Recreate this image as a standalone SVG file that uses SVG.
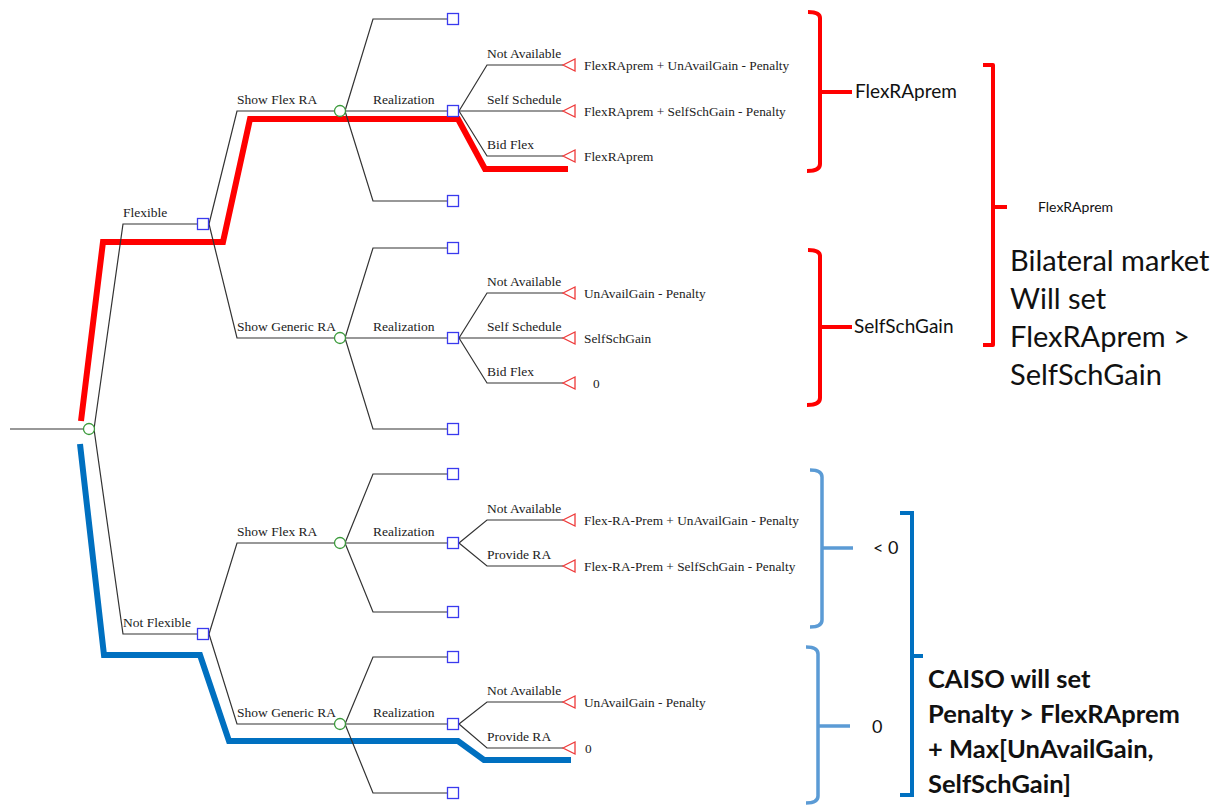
<svg xmlns="http://www.w3.org/2000/svg" width="1224" height="805" viewBox="0 0 1224 805">
<style>
.br{fill:none;stroke:#333;stroke-width:1.2}
.dec{fill:#fff;stroke:#3a3aee;stroke-width:1.3}
.chn{fill:#fff;stroke:#3a9a3a;stroke-width:1.3}
.trm{fill:#fff;stroke:#ee3a3a;stroke-width:1.3}
.lb{font-family:"Liberation Serif",serif;font-size:13.5px;fill:#222}
.pay{font-family:"Liberation Serif",serif;font-size:13.3px;fill:#222}
.ann{font-family:Lato,"Open Sans",sans-serif;fill:#111}
.rb{fill:none;stroke:#ff0000;stroke-width:4;stroke-linejoin:round}
.lbb{fill:none;stroke:#5b9bd5;stroke-width:3.5}
.dbb{fill:none;stroke:#0070c0;stroke-width:4}
.hl{fill:none;stroke-width:6;stroke-linejoin:miter}
</style>
<rect width="1224" height="805" fill="#fff"/>

<g id="highlights">
<polyline class="hl" stroke="#ff0000" points="81,421 103,242 223,242 250,119 458,119 485,169 568,169"/>
<polyline class="hl" stroke="#0070c0" points="80,444 104,655 200,655 229,741 458,741 484,760 571,760"/>
</g>

<g id="connectors">
<line class="br" x1="10" y1="429" x2="84" y2="429"/>
<polyline class="br" points="94,429 123,224 197,224"/>
<polyline class="br" points="94,429 123,634 197,634"/>
<polyline class="br" points="209,224 237,111 335,111"/>
<polyline class="br" points="209,224 237,338 335,338"/>
<polyline class="br" points="209,634 237,543 335,543"/>
<polyline class="br" points="209,634 237,724 335,724"/>
<polyline class="br" points="345,111 373,19 447,19"/>
<polyline class="br" points="345,111 447,111"/>
<polyline class="br" points="345,111 373,201 447,201"/>
<polyline class="br" points="345,338 373,248 447,248"/>
<polyline class="br" points="345,338 447,338"/>
<polyline class="br" points="345,338 373,429 447,429"/>
<polyline class="br" points="345,543 373,474 447,474"/>
<polyline class="br" points="345,543 447,543"/>
<polyline class="br" points="345,543 373,612 447,612"/>
<polyline class="br" points="345,724 373,657 447,657"/>
<polyline class="br" points="345,724 447,724"/>
<polyline class="br" points="345,724 373,793 447,793"/>
<polyline class="br" points="459,111 487,65 563,65"/>
<polyline class="br" points="459,111 563,111"/>
<polyline class="br" points="459,111 487,156 563,156"/>
<polyline class="br" points="459,338 487,293 563,293"/>
<polyline class="br" points="459,338 563,338"/>
<polyline class="br" points="459,338 487,383 563,383"/>
<polyline class="br" points="459,543 487,520 563,520"/>
<polyline class="br" points="459,543 487,566 563,566"/>
<polyline class="br" points="459,724 487,702 563,702"/>
<polyline class="br" points="459,724 487,748 563,748"/>
</g>

<g id="branch-labels" class="lb">
<text x="123" y="217">Flexible</text>
<text x="123" y="627">Not Flexible</text>
<text x="237" y="104">Show Flex RA</text>
<text x="237" y="331">Show Generic RA</text>
<text x="237" y="536">Show Flex RA</text>
<text x="237" y="717">Show Generic RA</text>
<text x="373" y="104">Realization</text>
<text x="373" y="331">Realization</text>
<text x="373" y="536">Realization</text>
<text x="373" y="717">Realization</text>
<text x="487" y="58">Not Available</text>
<text x="487" y="104">Self Schedule</text>
<text x="487" y="149">Bid Flex</text>
<text x="487" y="286">Not Available</text>
<text x="487" y="331">Self Schedule</text>
<text x="487" y="376">Bid Flex</text>
<text x="487" y="513">Not Available</text>
<text x="487" y="559">Provide RA</text>
<text x="487" y="695">Not Available</text>
<text x="487" y="741">Provide RA</text>
</g>

<g id="root"><circle class="chn" cx="89" cy="429" r="5.5"/></g>
<g id="flexible"><rect class="dec" x="197.5" y="218.5" width="11" height="11"/></g>
<g id="not-flexible"><rect class="dec" x="197.5" y="628.5" width="11" height="11"/></g>
<g id="flex-showflex"><circle class="chn" cx="340" cy="111" r="5.5"/></g>
<g id="flex-showgeneric"><circle class="chn" cx="340" cy="338" r="5.5"/></g>
<g id="notflex-showflex"><circle class="chn" cx="340" cy="543" r="5.5"/></g>
<g id="notflex-showgeneric"><circle class="chn" cx="340" cy="724" r="5.5"/></g>
<g id="leaf-boxes">
<rect class="dec" x="447.5" y="13.5" width="11" height="11"/>
<rect class="dec" x="447.5" y="195.5" width="11" height="11"/>
<rect class="dec" x="447.5" y="242.5" width="11" height="11"/>
<rect class="dec" x="447.5" y="423.5" width="11" height="11"/>
<rect class="dec" x="447.5" y="468.5" width="11" height="11"/>
<rect class="dec" x="447.5" y="606.5" width="11" height="11"/>
<rect class="dec" x="447.5" y="651.5" width="11" height="11"/>
<rect class="dec" x="447.5" y="787.5" width="11" height="11"/>
</g>
<g id="real-1"><rect class="dec" x="447.5" y="105.5" width="11" height="11"/></g>
<g id="real-2"><rect class="dec" x="447.5" y="332.5" width="11" height="11"/></g>
<g id="real-3"><rect class="dec" x="447.5" y="537.5" width="11" height="11"/></g>
<g id="real-4"><rect class="dec" x="447.5" y="718.5" width="11" height="11"/></g>

<g id="terminals">
<polygon class="trm" points="563,65 575,59 575,71"/>
<polygon class="trm" points="563,111 575,105 575,117"/>
<polygon class="trm" points="563,156 575,150 575,162"/>
<polygon class="trm" points="563,293 575,287 575,299"/>
<polygon class="trm" points="563,338 575,332 575,344"/>
<polygon class="trm" points="563,383 575,377 575,389"/>
<polygon class="trm" points="563,520 575,514 575,526"/>
<polygon class="trm" points="563,566 575,560 575,572"/>
<polygon class="trm" points="563,702 575,696 575,708"/>
<polygon class="trm" points="563,748 575,742 575,754"/>
</g>

<g id="payoffs" class="pay">
<text x="584" y="69.5">FlexRAprem + UnAvailGain - Penalty</text>
<text x="584" y="115.5">FlexRAprem + SelfSchGain - Penalty</text>
<text x="584" y="160.5">FlexRAprem</text>
<text x="584" y="297.5">UnAvailGain - Penalty</text>
<text x="584" y="342.5">SelfSchGain</text>
<text x="593" y="387.5">0</text>
<text x="584" y="524.5">Flex-RA-Prem + UnAvailGain - Penalty</text>
<text x="584" y="570.5">Flex-RA-Prem + SelfSchGain - Penalty</text>
<text x="584" y="706.5">UnAvailGain - Penalty</text>
<text x="585" y="752.5">0</text>
</g>

<g id="bracket-flexraprem">
<path class="rb" d="M808,12 Q820,12 820,18 L820,164 Q820,171 807,171 M820,92 L852,92"/>
<text class="ann" x="855" y="98" font-size="19">FlexRAprem</text>
</g>
<g id="bracket-selfschgain">
<path class="rb" d="M808,250 Q820,250 820,256 L820,398 Q820,405 807,405 M820,327 L852,327"/>
<text class="ann" x="854" y="333" font-size="19">SelfSchGain</text>
</g>
<g id="bracket-bilateral">
<path class="rb" d="M983,65 L993,65 L993,345 L983,345 M993,207 L1007,207"/>
<text class="ann" x="1038" y="212" font-size="14">FlexRAprem</text>
<text class="ann" x="1010" y="271" font-size="29">Bilateral market</text>
<text class="ann" x="1010" y="309" font-size="29">Will set</text>
<text class="ann" x="1010" y="347" font-size="29">FlexRAprem &gt;</text>
<text class="ann" x="1010" y="385" font-size="29">SelfSchGain</text>
</g>
<g id="bracket-lt0">
<path class="lbb" d="M810,470 Q822,470 822,477 L822,620 Q822,627 810,627 M822,548 L853,548"/>
<text class="ann" x="873" y="554" font-size="18">&lt; 0</text>
</g>
<g id="bracket-0">
<path class="lbb" d="M806,647 Q818,647 818,654 L818,796 Q818,803 806,803 M818,726 L850,726"/>
<text class="ann" x="872" y="733" font-size="18">0</text>
</g>
<g id="bracket-caiso">
<path class="dbb" d="M900,513 L912,513 L912,795 L900,795 M912,656 L923,656"/>
<g class="ann" font-size="25.5" font-weight="bold">
<text x="928" y="688">CAISO will set</text>
<text x="928" y="723">Penalty &gt; FlexRAprem</text>
<text x="928" y="758">+ Max[UnAvailGain,</text>
<text x="928" y="793">SelfSchGain]</text>
</g>
</g>
</svg>
